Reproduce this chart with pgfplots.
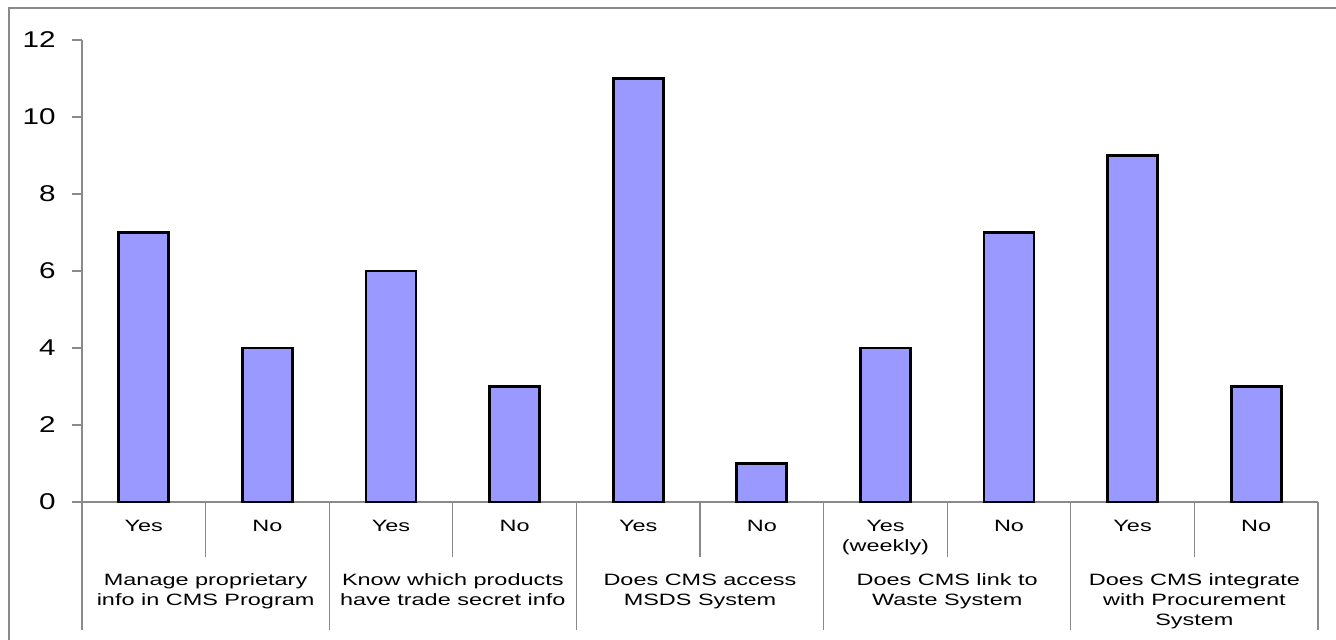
\documentclass[border=0pt]{standalone}
\usepackage{fontspec}
\setmainfont{Liberation Sans}
\usepackage{graphicx}
\usepackage{pgfplots}
\pgfplotsset{compat=1.18}
\definecolor{barblue}{HTML}{9999FF}
\definecolor{linegray}{HTML}{8A8A8A}
\tikzset{
  sep/.style={linegray, line width=0.6pt},
  lab/.style={anchor=base, inner sep=0pt, font=\fontsize{8.2}{9.8}\selectfont},
}
% wide, centred multi-line label whose baseline is that of its first line
\newcommand{\wlab}[1]{\scalebox{1.43}[1]{\begin{tabular}[t]{@{}c@{}}#1\end{tabular}}}
\begin{document}
\begin{tikzpicture}
\useasboundingbox (-41pt,-69pt) rectangle (627pt,251pt);
% outer chart frame
\draw[linegray, line width=0.7pt] (-36.5pt,-75pt) -- (-36.5pt,247pt) -- (630pt,247pt);
\begin{axis}[
  at={(0,0)}, anchor=south west,
  scale only axis, width=618pt, height=231pt,
  xmin=-0.5, xmax=9.5, ymin=0, ymax=12,
  ytick={0,2,...,12},
  xtick=\empty,
  axis lines*=left,
  axis line style={linegray, line width=0.6pt},
  tick align=outside,
  major tick length=5pt,
  y tick style={linegray, line width=0.6pt},
  /pgf/number format/assume math mode=true,
  yticklabel={\scalebox{1.3}[1]{\pgfmathprintnumber[assume math mode=true]{\tick}}},
  yticklabel style={font=\fontsize{11.4}{13}\selectfont, inner sep=0pt, anchor=east, xshift=-8pt},
  clip=false,
  ybar, bar width=25pt,
]
\addplot[fill=barblue, draw=black, line width=1.4pt] coordinates {
  (0,7) (1,4) (2,6) (3,3) (4,11) (5,1) (6,4) (7,7) (8,9) (9,3)
};
% separators between answers
\pgfplotsinvokeforeach{0.5,2.5,4.5,6.5,8.5}{
  \draw[sep] (axis cs:#1,0) -- ([yshift=-27.5pt]axis cs:#1,0);
}
% separators between questions
\pgfplotsinvokeforeach{-0.5,1.5,3.5,5.5,7.5,9.5}{
  \draw[sep] (axis cs:#1,0) -- ([yshift=-64pt]axis cs:#1,0);
}
% answer labels
\node[lab] at ([yshift=-15pt]axis cs:0,0) {\wlab{Yes}};
\node[lab] at ([yshift=-15pt]axis cs:1,0) {\wlab{No}};
\node[lab] at ([yshift=-15pt]axis cs:2,0) {\wlab{Yes}};
\node[lab] at ([yshift=-15pt]axis cs:3,0) {\wlab{No}};
\node[lab] at ([yshift=-15pt]axis cs:4,0) {\wlab{Yes}};
\node[lab] at ([yshift=-15pt]axis cs:5,0) {\wlab{No}};
\node[lab] at ([yshift=-15pt]axis cs:6,0) {\wlab{Yes\\(weekly)}};
\node[lab] at ([yshift=-15pt]axis cs:7,0) {\wlab{No}};
\node[lab] at ([yshift=-15pt]axis cs:8,0) {\wlab{Yes}};
\node[lab] at ([yshift=-15pt]axis cs:9,0) {\wlab{No}};
% question labels
\node[lab] at ([yshift=-42pt]axis cs:0.5,0) {\wlab{Manage proprietary\\info in CMS Program}};
\node[lab] at ([yshift=-42pt]axis cs:2.5,0) {\wlab{Know which products\\have trade secret info}};
\node[lab] at ([yshift=-42pt]axis cs:4.5,0) {\wlab{Does CMS access\\MSDS System}};
\node[lab] at ([yshift=-42pt]axis cs:6.5,0) {\wlab{Does CMS link to\\Waste System}};
\node[lab] at ([yshift=-42pt]axis cs:8.5,0) {\wlab{Does CMS integrate\\with Procurement\\System}};
\end{axis}
\end{tikzpicture}
\end{document}
